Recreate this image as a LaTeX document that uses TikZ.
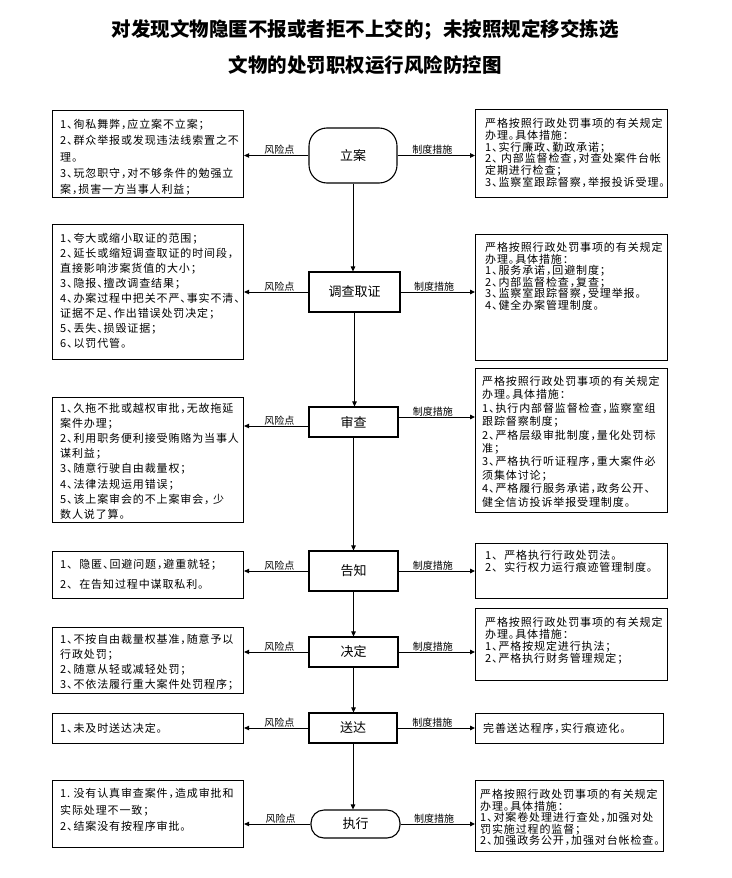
\documentclass[tikz,border=0pt]{standalone}
\usepackage{fontspec}
\setmainfont{Noto Sans CJK SC}
\newfontfamily\boxfont[LetterSpace=8,RawFeature=+halt]{Noto Sans CJK SC}
\usetikzlibrary{arrows.meta}
\tikzset{
  box/.style={draw, line width=1.1pt, inner sep=0pt, anchor=north west},
  txt/.style={anchor=north west, inner sep=0pt, align=left, font=\boxfont\fontsize{11}{#1}\selectfont},
  stepnode/.style={draw, line width=1.1pt, inner sep=0pt, font=\fontsize{13}{14}\selectfont},
  arr/.style={line width=0.9pt, -{Triangle[length=5pt,width=4.5pt]}},
  lab/.style={anchor=south, inner sep=0.6pt, font=\fontsize{10}{11}\selectfont},
}
\begin{document}
\begin{tikzpicture}[x=1pt,y=-1pt]
\useasboundingbox (0,0) rectangle (731,878);
% title
\node[font=\bfseries\fontsize{19.5}{22}\selectfont] (title1) at (365,30) {对发现文物隐匿不报或者拒不上交的；未按照规定移交拣选};
\node[font=\bfseries\fontsize{19.5}{22}\selectfont] (title2) at (365,65) {文物的处罚职权运行风险防控图};

% centre steps
\node[stepnode, minimum width=88pt, minimum height=55pt, rounded corners=18pt] (N1) at (353,155.5) {立案};
\node[stepnode, minimum width=91pt, minimum height=40pt] (N2) at (354.5,292) {调查取证};
\node[stepnode, minimum width=89pt, minimum height=30pt] (N3) at (353.5,422) {审查};
\node[stepnode, minimum width=89pt, minimum height=40pt] (N4) at (353.5,571) {告知};
\node[stepnode, minimum width=89pt, minimum height=30pt] (N5) at (353.5,652) {决定};
\node[stepnode, minimum width=88pt, minimum height=30pt] (N6) at (353,728) {送达};
\node[stepnode, minimum width=89pt, minimum height=28pt, rounded corners=13pt] (N7) at (355.5,824) {执行};

% left boxes
\node[box, minimum width=191pt, minimum height=87pt] (L1) at (52,110) {};
\node[txt=16.25] (L1t) at (60,119) {1、徇私舞弊，应立案不立案；\\2、群众举报或发现违法线索置之不\\理。\\3、玩忽职守，对不够条件的勉强立\\案，损害一方当事人利益；};
\node[box, minimum width=191pt, minimum height=135pt] (L2) at (52,224) {};
\node[txt=15] (L2t) at (60,233) {1、夸大或缩小取证的范围；\\2、延长或缩短调查取证的时间段，\\直接影响涉案货值的大小；\\3、隐报、擅改调查结果；\\4、办案过程中把关不严、事实不清、\\证据不足、作出错误处罚决定；\\5、丢失、损毁证据；\\6、以罚代管。};
\node[box, minimum width=191pt, minimum height=125pt] (L3) at (52,397) {};
\node[txt=15.1] (L3t) at (60,403) {1、久拖不批或越权审批，无故拖延\\案件办理；\\2、利用职务便利接受贿赂为当事人\\谋利益；\\3、随意行驶自由裁量权；\\4、法律法规运用错误；\\5、该上案审会的不上案审会，\ 少\\数人说了算。};
\node[box, minimum width=191pt, minimum height=47pt] (L4) at (52,551) {};
\node[txt=20] (L4t) at (60,559) {1、\ \ 隐匿、回避问题，避重就轻；\\2、\ \ 在告知过程中谋取私利。};
\node[box, minimum width=191pt, minimum height=66pt] (L5) at (52,627) {};
\node[txt=15] (L5t) at (60,634) {1、不按自由裁量权基准，随意予以\\行政处罚；\\2、随意从轻或减轻处罚；\\3、不依法履行重大案件处罚程序；};
\node[box, minimum width=191pt, minimum height=30pt] (L6) at (52,713) {};
\node[txt=15] (L6t) at (60,723) {1、未及时送达决定。};
\node[box, minimum width=191pt, minimum height=67pt] (L7) at (52,780) {};
\node[txt=16.5] (L7t) at (60,788) {1.\ 没有认真审查案件，造成审批和\\实际处理不一致；\\2、结案没有按程序审批。};

% right boxes
\node[box, minimum width=192pt, minimum height=88pt] (R1) at (475,109) {};
\node[txt=11.8] (R1t) at (485,118) {严格按照行政处罚事项的有关规定\\办理。具体措施：\\1、实行廉政、勤政承诺；\\2、\ 内部监督检查，对查处案件台帐\\定期进行检查；\\3、监察室跟踪督察，举报投诉受理。};
\node[box, minimum width=192pt, minimum height=126pt] (R2) at (475,234) {};
\node[txt=11.6] (R2t) at (485,242) {严格按照行政处罚事项的有关规定\\办理。具体措施：\\1、服务承诺，回避制度；\\2、内部监督检查，复查；\\3、监察室跟踪督察，受理举报。\\4、健全办案管理制度。};
\node[box, minimum width=192pt, minimum height=144pt] (R3) at (475,368) {};
\node[txt=13.4] (R3t) at (482,376) {严格按照行政处罚事项的有关规定\\办理。具体措施：\\1、执行内部督监督检查，监察室组\\跟踪督察制度；\\2、严格层级审批制度，量化处罚标\\准；\\3、严格执行听证程序，重大案件必\\须集体讨论；\\4、严格履行服务承诺，政务公开、\\健全信访投诉举报受理制度。};
\node[box, minimum width=192pt, minimum height=55pt] (R4) at (475,543) {};
\node[txt=12.5] (R4t) at (485,550) {1、\ \ 严格执行行政处罚法。\\2、\ \ 实行权力运行痕迹管理制度。};
\node[box, minimum width=192pt, minimum height=72pt] (R5) at (475,608) {};
\node[txt=12] (R5t) at (485,617) {严格按照行政处罚事项的有关规定\\办理。具体措施：\\1、严格按规定进行执法；\\2、严格执行财务管理规定；};
\node[box, minimum width=188pt, minimum height=30pt] (R6) at (475,713) {};
\node[txt=12] (R6t) at (483,723) {完善送达程序，实行痕迹化。};
\node[box, minimum width=188pt, minimum height=71pt] (R7) at (475,780) {};
\node[txt=11.5] (R7t) at (480,789) {严格按照行政处罚事项的有关规定\\办理。具体措施：\\1、对案卷处理进行查处，加强对处\\罚实施过程的监督；\\2、加强政务公开，加强对台帐检查。};

% vertical flow
\draw[arr] (N1.south) -- (N1.south |- N2.north);
\draw[arr] (N2.south) -- (N2.south |- N3.north);
\draw[arr] (N3.south) -- (N3.south |- N4.north);
\draw[arr] (N4.south) -- (N4.south |- N5.north);
\draw[arr] (N5.south) -- (N5.south |- N6.north);
\draw[arr] (N6.south) -- (N6.south |- N7.north);

% risk arrows
\foreach \i in {1,2,4,5,6,7}{
  \draw[arr] (N\i.west) -- (N\i.west -| L\i.east) node[lab, pos=0.45] {风险点};
  \draw[arr] (N\i.east) -- (N\i.east -| R\i.west) node[lab, pos=0.45] {制度措施};
}
\draw[arr] ([yshift=-4pt]N3.west) -- ([yshift=-4pt]N3.west -| L3.east) node[lab, pos=0.45] {风险点};
\draw[arr] ([yshift=5pt]N3.east) -- ([yshift=5pt]N3.east -| R3.west) node[lab, pos=0.45] {制度措施};
\end{tikzpicture}
\end{document}
